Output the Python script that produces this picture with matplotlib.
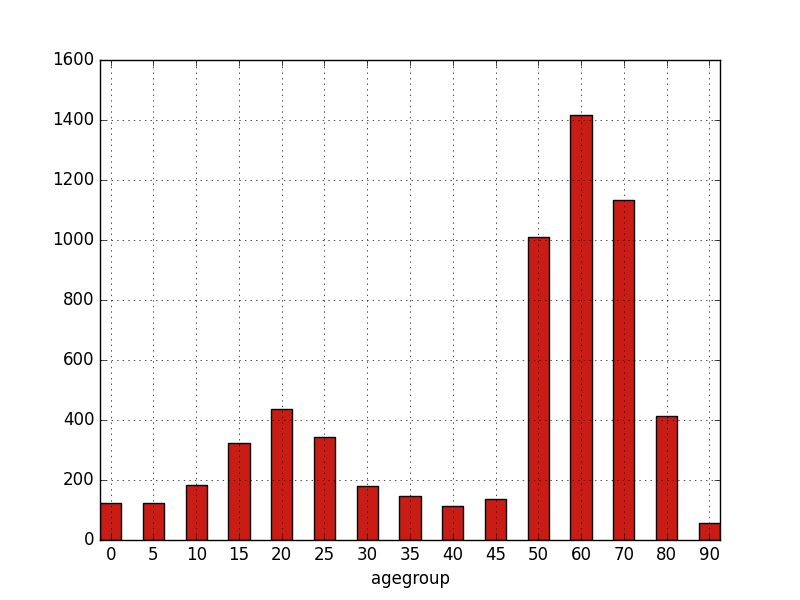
import matplotlib
matplotlib.use("Agg")
import matplotlib.pyplot as plt
import numpy as np

plt.style.use('classic')

agegroups = ['0', '5', '10', '15', '20', '25', '30', '35', '40', '45', '50', '60', '70', '80', '90']
counts = [122, 122, 183, 322, 436, 342, 180, 147, 112, 136, 1010, 1416, 1133, 414, 56]

fig = plt.figure(figsize=(8, 6), dpi=100)
ax = fig.add_subplot(111)
x = np.arange(len(agegroups))
ax.bar(x, counts, width=0.5, color='#c81c14', edgecolor='black', linewidth=1.0, align='center')
ax.set_xlim(-0.25, len(agegroups) - 0.75)
ax.set_ylim(0, 1600)
ax.set_xticks(x)
ax.set_xticklabels(agegroups, rotation=0)
ax.set_xlabel('agegroup')
ax.grid(True)
ax.set_axisbelow(False)
fig.savefig('out.png', dpi=100)
